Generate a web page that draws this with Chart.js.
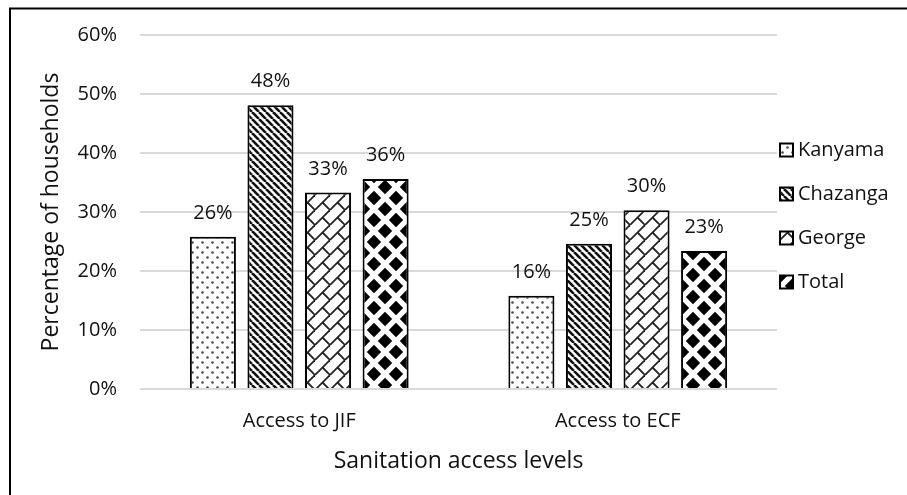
<!DOCTYPE html>
<html>
<head>
<meta charset="utf-8">
<script src="https://cdn.jsdelivr.net/npm/chart.js@4.4.1/dist/chart.umd.min.js"></script>
<style>
  html, body { margin: 0; padding: 0; background: #fff; }
  canvas { display: block; }
</style>
</head>
<body>
<canvas id="chart" width="907" height="495"></canvas>
<script>
// Share of households with access to each sanitation facility type, by settlement
const categories = ['Access to JIF', 'Access to ECF'];
const seriesNames = ['Kanyama', 'Chazanga', 'George', 'Total'];
const kanyama  = [25.8, 15.8];
const chazanga = [48.1, 24.6];
const george   = [33.3, 30.3];
const total    = [35.6, 23.4];
const yTicks = [0, 10, 20, 30, 40, 50, 60];

const FONT = "'Open Sans', 'DejaVu Sans', sans-serif";
const INK = '#111';

const canvas = document.getElementById('chart');
const ctx = canvas.getContext('2d');

// Small repeating tiles used as hatch fills for the bars
function makePattern(size, draw) {
  const t = document.createElement('canvas');
  t.width = size; t.height = size;
  const g = t.getContext('2d');
  g.fillStyle = '#fff';
  g.fillRect(0, 0, size, size);
  draw(g, size);
  return ctx.createPattern(t, 'repeat');
}

const dotted = makePattern(10, (g) => {
  g.fillStyle = '#4a4a4a';
  [[2.5, 2.5], [7.5, 7.5]].forEach(([x, y]) => {
    g.beginPath(); g.arc(x, y, 1.3, 0, Math.PI * 2); g.fill();
  });
});

const stripes = makePattern(7, (g, s) => {
  g.strokeStyle = INK; g.lineWidth = 2.6;
  for (const x0 of [-s, 0, s]) {
    g.beginPath(); g.moveTo(x0, 0); g.lineTo(x0 + s, s); g.stroke();
  }
});

const brick = makePattern(15, (g, s) => {
  g.strokeStyle = '#222'; g.lineWidth = 1.8;
  for (const x0 of [-s, 0, s]) {
    g.beginPath(); g.moveTo(x0, s); g.lineTo(x0 + s, 0); g.stroke();
  }
  g.beginPath(); g.moveTo(s / 2, s / 2); g.lineTo(s, s); g.stroke();
  g.beginPath(); g.moveTo(-s / 2, -s / 2); g.lineTo(0, 0); g.stroke();
});

const diamonds = makePattern(22, (g, s) => {
  g.fillStyle = '#000';
  const h = 7.2;
  [[0, 0], [s, 0], [0, s], [s, s], [s / 2, s / 2]].forEach(([x, y]) => {
    g.beginPath();
    g.moveTo(x, y - h); g.lineTo(x + h, y); g.lineTo(x, y + h); g.lineTo(x - h, y);
    g.closePath(); g.fill();
  });
});

const fills = [dotted, stripes, brick, diamonds];
const seriesData = [kanyama, chazanga, george, total];

// Outer frame: top and left rules of the figure box
const framePlugin = {
  id: 'frame',
  afterDraw(chart) {
    const c = chart.ctx;
    c.save();
    c.strokeStyle = '#000';
    c.lineWidth = 2;
    c.beginPath();
    c.moveTo(10, 495); c.lineTo(10, 8.5); c.lineTo(907, 8.5);
    c.stroke();
    c.restore();
  }
};

// Percentage labels above each bar
const valueLabels = {
  id: 'valueLabels',
  afterDatasetsDraw(chart) {
    const c = chart.ctx;
    c.save();
    c.font = '20px ' + FONT;
    c.fillStyle = INK;
    c.textAlign = 'center';
    c.textBaseline = 'alphabetic';
    chart.data.datasets.forEach((ds, i) => {
      chart.getDatasetMeta(i).data.forEach((bar, j) => {
        c.fillText(Math.round(ds.data[j]) + '%', bar.x, bar.y - 18);
      });
    });
    c.restore();
  }
};

// Legend column to the right of the plot
const sideLegend = {
  id: 'sideLegend',
  afterDraw(chart) {
    const c = chart.ctx;
    const x = chart.chartArea.right + 3;
    c.save();
    c.font = '20px ' + FONT;
    c.textBaseline = 'middle';
    c.textAlign = 'left';
    chart.data.datasets.forEach((ds, i) => {
      const y = 150 + i * 44;
      c.fillStyle = ds.backgroundColor;
      c.fillRect(x, y - 6.5, 13, 13);
      c.strokeStyle = '#000';
      c.lineWidth = 2;
      c.strokeRect(x, y - 6.5, 13, 13);
      c.fillStyle = INK;
      c.fillText(ds.label, x + 18, y);
    });
    c.restore();
  }
};

new Chart(canvas, {
  type: 'bar',
  data: {
    labels: categories,
    datasets: seriesNames.map((name, i) => ({
      label: name,
      data: seriesData[i],
      backgroundColor: fills[i],
      borderColor: '#000',
      borderWidth: 2,
      categoryPercentage: 0.723,
      barPercentage: 0.8
    }))
  },
  options: {
    responsive: false,
    devicePixelRatio: 1,
    animation: false,
    layout: { padding: { left: 0, top: 31, right: 130, bottom: 0 } },
    plugins: {
      legend: { display: false },
      tooltip: { enabled: false }
    },
    scales: {
      x: {
        grid: { display: false, drawTicks: false },
        border: { display: false },
        ticks: { color: INK, font: { family: FONT, size: 20 }, padding: 20 },
        title: {
          display: true, text: 'Sanitation access levels', color: INK,
          font: { family: FONT, size: 23 }, padding: { top: 0, bottom: 20 }
        },
        afterFit(scale) { scale.height = 106; }
      },
      y: {
        min: 0, max: 60,
        afterBuildTicks(scale) { scale.ticks = yTicks.map(v => ({ value: v })); },
        grid: { color: '#d9d9d9', lineWidth: 2, drawTicks: false },
        border: { display: false },
        ticks: {
          color: INK, font: { family: FONT, size: 20 }, padding: 23,
          callback: (v) => v + '%'
        },
        title: {
          display: true, text: 'Percentage of households', color: INK,
          font: { family: FONT, size: 23 }, padding: { top: 38, bottom: 0 }
        },
        afterFit(scale) { scale.width = 140; }
      }
    }
  },
  plugins: [framePlugin, valueLabels, sideLegend]
});
</script>
</body>
</html>
